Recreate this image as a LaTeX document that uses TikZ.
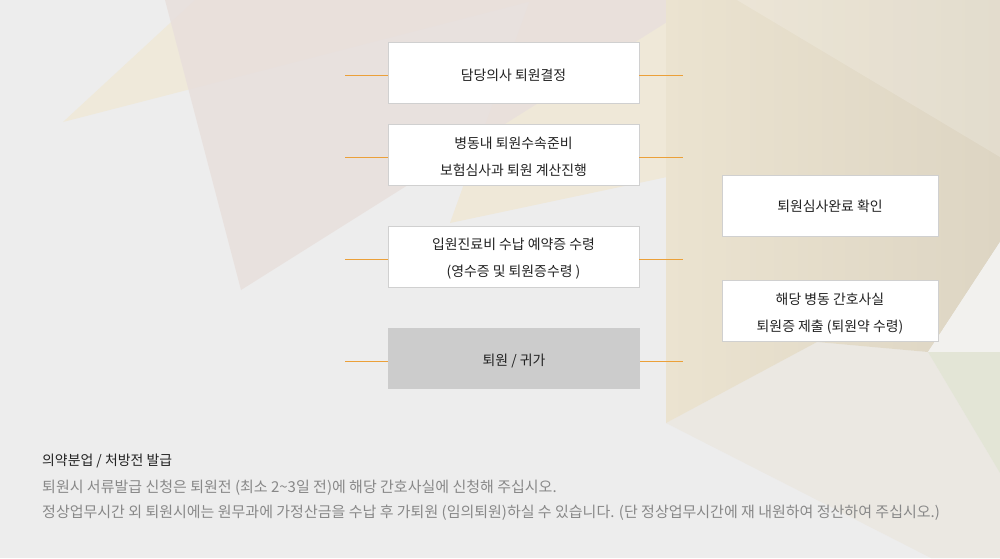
\documentclass[tikz,border=0pt]{standalone}
\usepackage{fontspec}
\setmainfont{Noto Sans CJK KR}
\definecolor{bgbase}{HTML}{EDEDED}
\definecolor{pinkA}{HTML}{E8DFDC}
\definecolor{yelA}{HTML}{EFE9DA}
\definecolor{creamC}{HTML}{EFE8D8}
\definecolor{beigeL}{HTML}{EBE3D0}
\definecolor{beigeR}{HTML}{DDD5C3}
\definecolor{whiteF}{HTML}{F2F1EE}
\definecolor{greenF}{HTML}{E3E5D6}
\definecolor{lowF}{HTML}{EBE8E2}
\definecolor{boxline}{HTML}{D0D0D0}
\definecolor{graybox}{HTML}{CCCCCC}
\definecolor{conncol}{HTML}{EBA039}
\definecolor{txtdark}{HTML}{222222}
\definecolor{txtgray}{HTML}{888888}
\tikzset{
  stepbox/.style={draw=boxline, line width=0.8pt, fill=white, minimum width=251pt, minimum height=61pt, inner sep=0pt},
  endbox/.style={fill=graybox, minimum width=252pt, minimum height=61pt, inner sep=0pt},
  sidebox/.style={stepbox, minimum width=216pt},
  boxtext/.style={inner sep=0pt, align=center, text=txtdark, font=\fontsize{13.9}{27}\selectfont},
  conn/.style={draw=conncol, line width=1pt},
  notetitle/.style={anchor=west, inner sep=0pt, text=txtdark, font=\fontsize{13.9}{16}\selectfont},
  notebody/.style={anchor=west, inner sep=0pt, text=txtgray, font=\fontsize{15}{18}\selectfont}
}
\begin{document}
\begin{tikzpicture}[x=1pt,y=-1pt]
\useasboundingbox (0,0) rectangle (1000,558);
% background
\fill[bgbase] (0,0) rectangle (1000,558);
\fill[yelA] (63,122) -- (195,0) -- (536,0) -- cycle;
\fill[creamC] (450,223) -- (530,0) -- (667,0) -- (667,177) -- cycle;
\fill[pinkA, fill opacity=0.85] (165,0) -- (241,290) -- (702,0) -- cycle;
\fill[lowF] (666,423) -- (817,342) -- (928,352) -- (1000,473) -- (1000,558) -- (931,558) -- cycle;
\shade[left color=beigeL, right color=beigeR] (666,0) -- (1000,0) -- (1000,242) -- (928,352) -- (817,342) -- (666,423) -- cycle;
\fill[white, fill opacity=0.18] (737,0) -- (1000,0) -- (1000,157) -- cycle;
\fill[whiteF] (1000,242) -- (928,352) -- (1000,352) -- cycle;
\fill[greenF] (928,352) -- (1000,352) -- (1000,473) -- cycle;
% boxes
\node[stepbox] (b1) at (513.5,72.5) {};
\node[stepbox] (b2) at (513.5,154.5) {};
\node[stepbox] (b3) at (513.5,256.5) {};
\node[endbox] (b4) at (514,358.5) {};
\node[sidebox] (s1) at (830,205.5) {};
\node[sidebox] (s2) at (830,310.5) {};
\node[boxtext] (b1t) at ([yshift=-2.5pt]b1.center) {담당의사 퇴원결정};
\node[boxtext] (b2t) at ([yshift=-2.5pt]b2.center) {병동내 퇴원수속준비\\보험심사과 퇴원 계산진행};
\node[boxtext] (b3t) at ([yshift=-2.5pt]b3.center) {입원진료비 수납 예약증 수령\\(영수증 및 퇴원증수령 )};
\node[boxtext] (b4t) at ([yshift=-2.5pt]b4.center) {퇴원 / 귀가};
\node[boxtext] (s1t) at ([yshift=-0.5pt]s1.center) {퇴원심사완료 확인};
\node[boxtext] (s2t) at ([yshift=-3pt]s2.center) {해당 병동 간호사실\\퇴원증 제출 (퇴원약 수령)};
% connector stubs
\coordinate (l1) at (345,75);
\coordinate (l2) at (345,157);
\coordinate (l3) at (345,259);
\coordinate (l4) at (345,361);
\coordinate (r1) at (683,75);
\coordinate (r2) at (683,157);
\coordinate (r3) at (683,259);
\coordinate (r4) at (683,361);
\draw[conn] (l1) -- (l1 -| b1.west);
\draw[conn] (l2) -- (l2 -| b2.west);
\draw[conn] (l3) -- (l3 -| b3.west);
\draw[conn] (l4) -- (l4 -| b4.west);
\draw[conn] (r1 -| b1.east) -- (r1);
\draw[conn] (r2 -| b2.east) -- (r2);
\draw[conn] (r3 -| b3.east) -- (r3);
\draw[conn] (r4 -| b4.east) -- (r4);
% notes
\node[notetitle] (t0) at (42,461) {의약분업 / 처방전 발급};
\node[notebody] (t1) at (42,488) {퇴원시 서류발급 신청은 퇴원전 (최소 2\textasciitilde3일 전)에 해당 간호사실에 신청해 주십시오.};
\node[notebody] (t2) at (42,513) {정상업무시간 외 퇴원시에는 원무과에 가정산금을 수납 후 가퇴원 (임의퇴원)하실 수 있습니다. (단 정상업무시간에 재 내원하여 정산하여 주십시오.)};
\end{tikzpicture}
\end{document}
